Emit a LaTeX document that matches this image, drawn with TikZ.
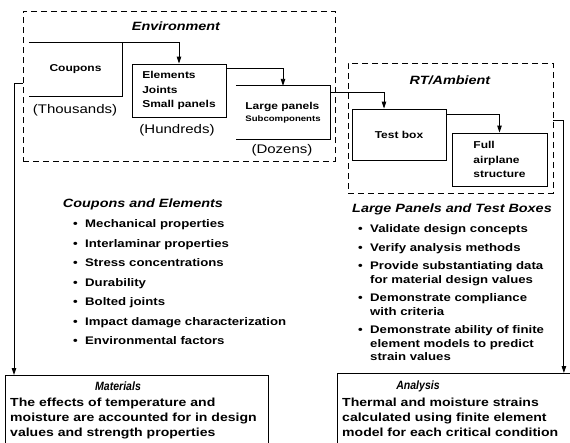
\documentclass[tikz,border=0pt]{standalone}
\usepackage{fontspec}
\setmainfont{Liberation Sans}[FakeStretch=1.2]
\newfontfamily\narrowfont{Liberation Sans}[FakeStretch=0.88]
\usetikzlibrary{arrows.meta, positioning}

\tikzset{
  grp/.style={draw, dash pattern=on 6pt off 4pt, line width=0.8pt},
  tbox/.style={draw, line width=0.9pt, inner sep=0pt},
  open/.style={inner sep=0pt, align=left},
  qty/.style={font=\fontsize{12.5}{14}\selectfont\mdseries},
  ttl/.style={font=\fontsize{12}{14}\selectfont\bfseries\itshape},
  lst/.style={align=left, inner sep=0pt, font=\fontsize{11}{19.5}\selectfont\bfseries},
  txt/.style={align=left, inner sep=0pt, font=\fontsize{11.7}{15}\selectfont\bfseries},
  link/.style={line width=0.9pt, -{Triangle[length=7pt,width=4.5pt]}},
}
\newcommand{\bul}{\makebox[12pt][l]{\textbullet}}

\begin{document}
\begin{tikzpicture}[x=1pt, y=-1pt, font=\fontsize{10}{14.5}\selectfont\bfseries]
  \useasboundingbox (0,0) rectangle (570,442);

  % test conditions
  \node[grp, minimum width=312pt, minimum height=150pt] (env) at (179,86) {};
  \node[ttl] (envttl) at (176,26) {Environment};
  \node[grp, minimum width=205pt, minimum height=130pt] (rt) at (450.5,128) {};
  \node[ttl] (rtttl) at (450,80) {RT/Ambient};

  % building blocks
  \node[open, minimum width=93pt, minimum height=53pt] (coupons) at (75.5,69.5) {Coupons};
  \draw[line width=0.9pt] (coupons.north west) -- (coupons.north east)
    -- (coupons.south east) -- (coupons.south west);
  \node[qty] (thousands) at (75,110) {(Thousands)};

  \node[tbox, align=left, minimum width=94pt, minimum height=53pt] (elements) at (179,90.5)
    {Elements\\Joints\\Small panels};
  \node[qty] (hundreds) at (177,130) {(Hundreds)};

  \node[open, minimum width=94pt, minimum height=53pt] (large) at (283,112.5)
    {Large panels\\[-2pt]{\fontsize{8}{9}\selectfont Subcomponents}};
  \draw[line width=0.9pt] (large.north west) -- (large.north east)
    -- (large.south east) -- (large.south west);
  \node[qty] (dozens) at (282,150) {(Dozens)};

  \node[tbox, minimum width=94pt, minimum height=51pt] (testbox) at (399,134.5) {Test box};
  \node[tbox, align=left, minimum width=95pt, minimum height=53pt] (full) at (499.5,159.5)
    {Full\\airplane\\structure};

  \draw[link] (coupons.north east) -| (elements.north);
  \draw[link] ([yshift=-5pt]elements.north east) -| (large.north);
  \draw[link] ([yshift=-7pt]large.north east) -| ([xshift=-15pt]testbox.north);
  \draw[link] ([yshift=-6pt]testbox.north east) -| (full.north);

  % what each level shows
  \node[ttl] (cehead) at (143,204) {Coupons and Elements};
  \node[lst, anchor=west] (celist) at (73,282.5) {%
    \bul Mechanical properties\\
    \bul Interlaminar properties\\
    \bul Stress concentrations\\
    \bul Durability\\
    \bul Bolted joints\\
    \bul Impact damage characterization\\
    \bul Environmental factors};

  \node[ttl] (lphead) at (452,209) {Large Panels and Test Boxes};
  \node[lst, anchor=west, font=\fontsize{11}{13.5}\selectfont\bfseries] (lplist) at (358,293) {%
    \bul Validate design concepts\\[5pt]
    \bul Verify analysis methods\\[5pt]
    \bul Provide substantiating data\\
    \hspace*{12pt}for material design values\\[5pt]
    \bul Demonstrate compliance\\
    \hspace*{12pt}with criteria\\[5pt]
    \bul Demonstrate ability of finite\\
    \hspace*{12pt}element models to predict\\
    \hspace*{12pt}strain values};

  % results
  \node[tbox, minimum width=263pt, minimum height=80pt, anchor=north west] (mat) at (5,375) {};
  \node[font=\fontsize{12}{13}\narrowfont\bfseries\itshape] (matttl) at (118,386) {Materials};
  \node[txt, anchor=north west] (mattxt) at (10,398) {The effects of temperature and\\
    moisture are accounted for in design\\values and strength properties};

  \node[tbox, minimum width=238pt, minimum height=80pt, anchor=north west] (ana) at (337,373) {};
  \node[font=\fontsize{12}{13}\narrowfont\bfseries\itshape] (anattl) at (418,386) {Analysis};
  \node[txt, anchor=north west] (anatxt) at (342,398) {Thermal and moisture strains\\
    calculated using finite element\\model for each critical condition};

  \draw[link] ([yshift=3pt]env.west) -| ([xshift=9pt]mat.north west);
  \draw[link] ([yshift=8pt]rt.east) -| ([xshift=-12pt]ana.north east);
\end{tikzpicture}
\end{document}
